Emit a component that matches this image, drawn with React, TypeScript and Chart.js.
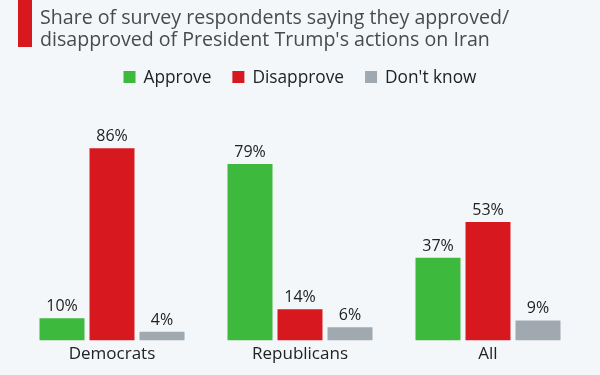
import React, { useEffect, useRef } from "react";
import { Chart, registerables } from "chart.js";

Chart.register(...registerables);

const categories = ["Democrats", "Republicans", "All"];
const seriesNames = ["Approve", "Disapprove", "Don't know"];
const approve = [10, 79, 37];
const disapprove = [86, 14, 53];
const dontKnow = [4, 6, 9];
const titleLines = [
  "Share of survey respondents saying they approved/",
  "disapproved of President Trump's actions on Iran",
];
const colors = ["#3db93d", "#d7181f", "#a0a8b0"];
const BG = "#f4f7fa";
const FONT = "'Open Sans', 'Noto Sans', sans-serif";

const headerPlugin = {
  id: "header",
  beforeDraw(chart: any) {
    const ctx = chart.ctx;
    ctx.save();
    ctx.fillStyle = BG;
    ctx.fillRect(0, 0, chart.width, chart.height);
    // red accent bar
    ctx.fillStyle = "#d7181f";
    ctx.fillRect(18, 0, 14, 47);
    // title
    ctx.fillStyle = "#4a4a4a";
    ctx.font = `19.6px ${FONT}`;
    ctx.textBaseline = "alphabetic";
    ctx.textAlign = "left";
    ctx.fillText(titleLines[0], 40, 24);
    ctx.fillText(titleLines[1], 40, 46);
    // legend
    ctx.font = `17.3px ${FONT}`;
    const items = seriesNames.map((n, i) => ({ n, c: colors[i], w: ctx.measureText(n).width }));
    const box = 12, gap1 = 8, gap2 = 21;
    const total = items.reduce((s, it) => s + box + gap1 + it.w, 0) + gap2 * (items.length - 1);
    let x = (chart.width - total) / 2;
    items.forEach((it) => {
      ctx.fillStyle = it.c;
      ctx.fillRect(x, 71, box, box);
      x += box + gap1;
      ctx.fillStyle = "#222";
      ctx.fillText(it.n, x, 83);
      x += it.w + gap2;
    });
    ctx.restore();
  },
};

const labelPlugin = {
  id: "valueLabels",
  afterDatasetsDraw(chart: any) {
    const ctx = chart.ctx;
    ctx.save();
    ctx.font = `16px ${FONT}`;
    ctx.fillStyle = "#222";
    ctx.textAlign = "center";
    ctx.textBaseline = "alphabetic";
    chart.data.datasets.forEach((ds: any, di: number) => {
      const meta = chart.getDatasetMeta(di);
      meta.data.forEach((el: any, i: number) => {
        ctx.fillText(ds.data[i] + "%", el.x, el.y - 7);
      });
    });
    ctx.restore();
  },
};

export default function App() {
  const ref = useRef<HTMLCanvasElement>(null);
  useEffect(() => {
    document.body.style.margin = "0";
    document.body.style.background = BG;
    const chart = new Chart(ref.current!, {
      type: "bar",
      data: {
        labels: categories,
        datasets: [approve, disapprove, dontKnow].map((d, i) => ({
          label: seriesNames[i],
          data: d,
          backgroundColor: colors[i],
          categoryPercentage: 0.798,
          barPercentage: 0.9,
        })),
      },
      options: {
        animation: false,
        responsive: false,
        maintainAspectRatio: false,
        layout: { padding: { top: 117, left: 18, right: 18, bottom: 8 } },
        plugins: {
          legend: { display: false },
          title: { display: false },
          tooltip: { enabled: false },
        },
        scales: {
          y: { display: false, min: 0, max: 100 },
          x: {
            grid: { display: false, drawTicks: false },
            border: { display: false },
            ticks: { color: "#222", font: { family: FONT, size: 17 }, padding: 3 },
          },
        },
      },
      plugins: [headerPlugin, labelPlugin],
    });
    return () => chart.destroy();
  }, []);
  return <canvas ref={ref} width={600} height={375} style={{ display: "block" }} />;
}
